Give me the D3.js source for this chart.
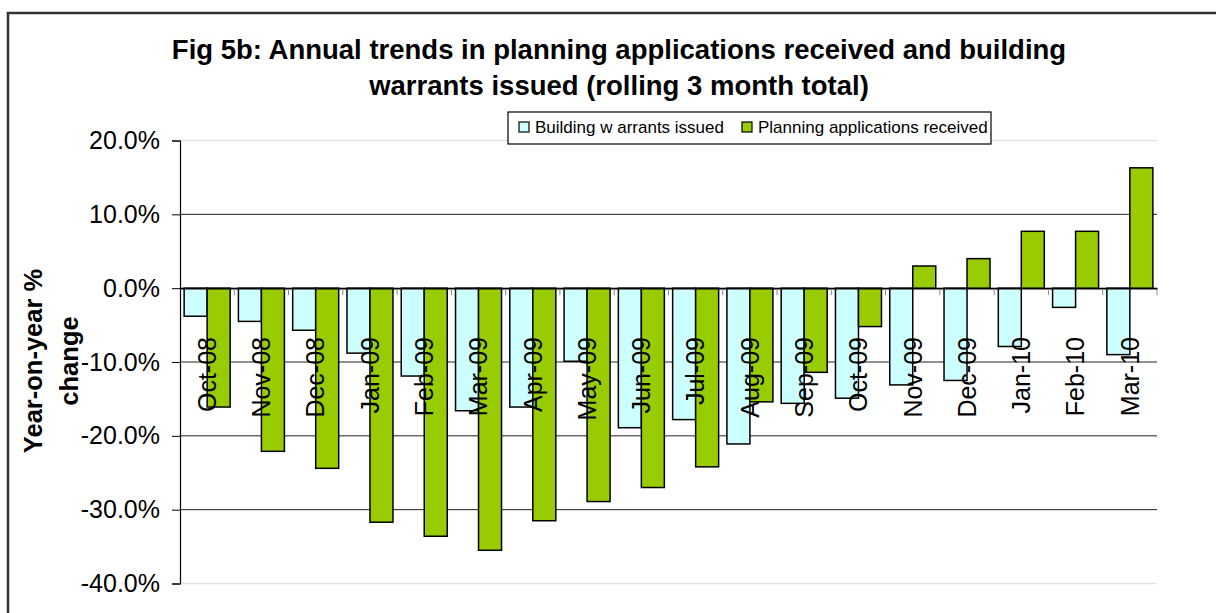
<!DOCTYPE html>
<html>
<head>
<meta charset="utf-8">
<script src="https://cdn.jsdelivr.net/npm/d3@7"></script>
<style>
	body { margin: 0; background: #fff; }
	svg text { font-family: "Liberation Sans", Arial, sans-serif; fill: #000; }
</style>
</head>
<body>
<div id="chart"></div>
<script>

// categories (rolling 3 month periods)
var months = ["Oct-08","Nov-08","Dec-08","Jan-09","Feb-09","Mar-09","Apr-09","May-09","Jun-09",
	"Jul-09","Aug-09","Sep-09","Oct-09","Nov-09","Dec-09","Jan-10","Feb-10","Mar-10"];

// year-on-year % change
var warrants = [-3.8,-4.5,-5.7,-8.8,-11.9,-16.6,-16.1,-9.9,-18.9,-17.8,-21.1,-15.6,-14.9,-13.1,-12.5,-7.9,-2.6,-9.0];
var planning = [-16.1,-22.1,-24.4,-31.7,-33.6,-35.5,-31.5,-28.9,-27.0,-24.2,-15.4,-11.4,-5.2,3.0,4.0,7.7,7.7,16.3];

var seriesNames = ["Building w arrants issued","Planning applications received"];
var seriesColors = ["#ccffff","#99cc00"];
var yTicks = [20,10,0,-10,-20,-30,-40];

var width = 1216, height = 613;
var plot = { left: 180, right: 1157, top: 140.5, bottom: 583.5 };

var svg = d3.select("#chart").append("svg")
	.attr("width", width)
	.attr("height", height);

// chart area border (runs off the picture right and bottom)
svg.append("rect")
	.attr("x", 8).attr("y", 13)
	.attr("width", 1230).attr("height", 640)
	.attr("fill", "#fff")
	.attr("stroke", "#333")
	.attr("stroke-width", 2.5);

// title
var title = svg.append("text")
	.attr("text-anchor", "middle")
	.style("font-size", "27.5px")
	.style("font-weight", "bold");
title.append("tspan").attr("x", 619).attr("y", 59)
	.text("Fig 5b: Annual trends in planning applications received and building");
title.append("tspan").attr("x", 619).attr("y", 95)
	.text("warrants issued (rolling 3 month total)");

// scales
var x = d3.scaleBand()
	.domain(months)
	.range([plot.left, plot.right])
	.padding(0);

var x1 = d3.scaleBand()
	.domain([0,1])
	.range([0, x.bandwidth()])
	.paddingInner(0)
	.paddingOuter(0.18);

var y = d3.scaleLinear()
	.domain([-40, 20])
	.range([plot.bottom, plot.top]);

var g = svg.append("g");

// gridlines
g.selectAll("line.grid")
	.data(yTicks).enter()
	.append("line")
		.attr("class", "grid")
		.attr("x1", plot.left).attr("x2", plot.right)
		.attr("y1", function(d){ return y(d) })
		.attr("y2", function(d){ return y(d) })
		.attr("stroke", function(d){ return (d == 20 || d == -40) ? "#e3e3e3" : "#222" })
		.attr("stroke-width", function(d){ return (d == 20 || d == -40) ? 1.5 : 1 });

// y axis (plain hyphen for negatives, like the original)
var yAxis = d3.axisLeft(y)
	.tickValues(yTicks)
	.tickSize(8)
	.tickPadding(12)
	.tickFormat(function(d){ return (d < 0 ? "-" : "") + Math.abs(d).toFixed(1) + "%" });

var yg = svg.append("g")
	.attr("class", "y axis")
	.attr("transform", "translate(" + plot.left + ",0)")
	.call(yAxis);
yg.select(".domain").attr("stroke", "#000").attr("stroke-width", 1.2);
yg.selectAll(".tick line").attr("stroke", "#000");
yg.selectAll(".tick text")
	.style("font-size", "25px")
	.attr("fill", "#000");

// y axis title
var ytitle = svg.append("text")
	.attr("text-anchor", "middle")
	.attr("transform", "translate(0,361) rotate(-90)")
	.style("font-size", "25.5px")
	.style("font-weight", "bold");
ytitle.append("tspan").attr("x", 0).attr("y", 42).text("Year-on-year %");
ytitle.append("tspan").attr("x", 0).attr("y", 78).text("change");

// bars
var rows = months.map(function(m,i){ return { month: m, vals: [warrants[i], planning[i]] } });

var groups = g.selectAll("g.month")
	.data(rows).enter()
	.append("g")
		.attr("class", "month")
		.attr("transform", function(d){ return "translate(" + x(d.month) + ",0)" });

groups.selectAll("rect")
	.data(function(d){ return d.vals.map(function(v,k){ return { k: k, v: v } }) })
	.enter().append("rect")
		.attr("x", function(d){ return x1(d.k) })
		.attr("width", x1.bandwidth())
		.attr("y", function(d){ return y(Math.max(0, d.v)) })
		.attr("height", function(d){ return Math.abs(y(d.v) - y(0)) })
		.attr("fill", function(d){ return seriesColors[d.k] })
		.attr("stroke", "#000")
		.attr("stroke-width", 1.5);

// x axis at zero
var xAxis = d3.axisBottom(x)
	.tickSize(0)
	.tickFormat("");
var xg = svg.append("g")
	.attr("class", "x axis")
	.attr("transform", "translate(0," + y(0) + ")")
	.call(xAxis);
xg.select(".domain").attr("stroke", "#000").attr("stroke-width", 1.5);

// category boundary ticks
xg.selectAll("line.cat")
	.data(months).enter()
	.append("line")
		.attr("class", "cat")
		.attr("x1", function(d){ return x(d) + x.bandwidth() })
		.attr("x2", function(d){ return x(d) + x.bandwidth() })
		.attr("y1", 1).attr("y2", 7)
		.attr("stroke", "#888");

// category labels, drawn over the bars
svg.selectAll("text.cat")
	.data(months).enter()
	.append("text")
		.attr("class", "cat")
		.attr("text-anchor", "end")
		.attr("dy", "0.35em")
		.attr("transform", function(d){ return "translate(" + (x(d) + x.bandwidth()/2) + ",337) rotate(-90)" })
		.style("font-size", "25px")
		.text(function(d){ return d });

// legend
var legend = svg.append("g").attr("transform", "translate(508,112)");
legend.append("rect")
	.attr("width", 483).attr("height", 32)
	.attr("fill", "#fff")
	.attr("stroke", "#000")
	.attr("stroke-width", 1.2);

var legX = [11, 234];
var items = legend.selectAll("g.item")
	.data(seriesNames).enter()
	.append("g")
		.attr("class", "item")
		.attr("transform", function(d,i){ return "translate(" + legX[i] + ",0)" });
items.append("rect")
	.attr("x", 0).attr("y", 10)
	.attr("width", 10).attr("height", 10)
	.attr("fill", function(d,i){ return seriesColors[i] })
	.attr("stroke", "#000")
	.attr("stroke-width", 1.2);
items.append("text")
	.attr("x", 16).attr("y", 21)
	.style("font-size", "17px")
	.text(function(d){ return d });

</script>
</body>
</html>
